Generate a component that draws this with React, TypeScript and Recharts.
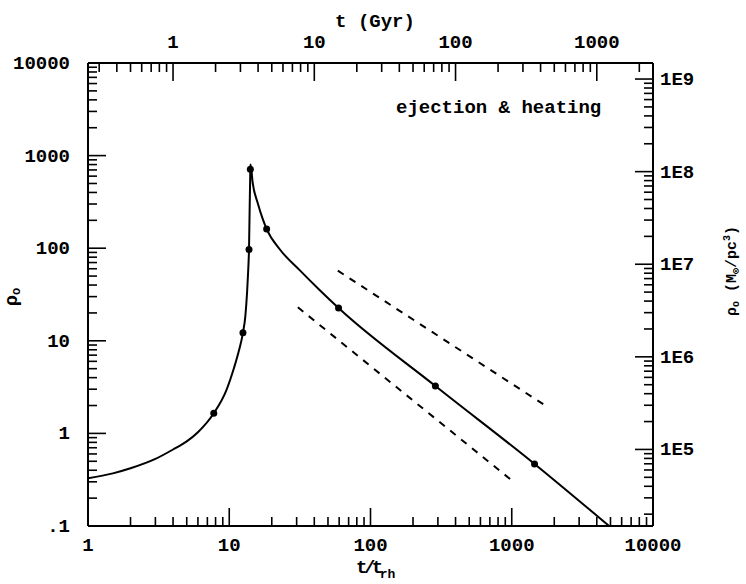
import { ComposedChart, Line, Scatter, XAxis, YAxis } from 'recharts';

// t / t_rh along the curve and central density rho_0
const curveX = [1, 1.5, 2, 3, 4, 5, 6, 7.77, 9.55, 10.8, 11.7, 12.5, 13.0, 13.36, 13.6, 13.8, 14.1, 14.15, 14.66, 15.9, 17.25, 18.4, 22.7, 31.5, 43.6, 59.4, 288, 1450, 4890];
const curveY = [0.327, 0.37, 0.42, 0.53, 0.67, 0.82, 1.03, 1.65, 2.94, 5.08, 7.8, 12.2, 18.5, 32.6, 55, 97, 711, 800, 506, 307, 207, 161, 98, 58, 35.4, 22.6, 3.25, 0.468, 0.1];

// computed models (dots)
const markerX = [7.77, 12.5, 13.8, 14.1, 18.4, 59.4, 288, 1450];
const markerY = [1.65, 12.2, 97, 711, 161, 22.6, 3.25, 0.468];

// power-law guide lines
const upperDashX = [58.7, 1745];
const upperDashY = [57.2, 1.98];
const lowerDashX = [30.6, 992];
const lowerDashY = [23, 0.314];

const bottomLabels = ['1', '10', '100', '1000', '10000'];
const topLabels = ['1', '10', '100', '1000'];
const leftLabels = ['.1', '1', '10', '100', '1000', '10000'];
const rightLabels = ['1E5', '1E6', '1E7', '1E8', '1E9'];

const T_RH = 0.25; // Gyr
const RHO_UNIT = 1.49e5; // Msun/pc^3

const curve = curveX.map((x, i) => ({ x, y: curveY[i] }));
const curvePhys = curveX.map((x, i) => ({ t: x * T_RH, rho: curveY[i] * RHO_UNIT }));
const markers = markerX.map((x, i) => ({ x, y: markerY[i] }));
const upperDash = upperDashX.map((x, i) => ({ x, y: upperDashY[i] }));
const lowerDash = lowerDashX.map((x, i) => ({ x, y: lowerDashY[i] }));

const logTicks = (lo: number, hi: number) => {
  const out: number[] = [];
  for (let e = Math.floor(Math.log10(lo)) - 1; e <= Math.ceil(Math.log10(hi)); e++) {
    for (let m = 1; m < 10; m++) {
      const v = m * Math.pow(10, e);
      if (v >= lo * 0.999 && v <= hi * 1.001) out.push(v);
    }
  }
  return out;
};

const font = '"Liberation Mono", monospace';
const MAJOR = 18;
const MINOR = 9;

const majorIndex = (v: number, first: number) => {
  const l = Math.log10(v);
  if (Math.abs(l - Math.round(l)) > 1e-6) return -1;
  return Math.round(l) - first;
};

const makeTick = (side: 'b' | 't' | 'l' | 'r', labels: string[], first: number) => (props: any) => {
  const { x, y, payload } = props;
  const idx = majorIndex(payload.value, first);
  const major = idx >= 0 && idx < labels.length;
  const len = major ? MAJOR : MINOR;
  let line;
  let text = null;
  const ts = { fontFamily: font, fontSize: 19, fontWeight: 700, fill: '#000' };
  if (side === 'b') {
    line = <line x1={x} y1={y} x2={x} y2={y - len} />;
    if (major) text = <text x={x} y={y + 20} textAnchor="middle" dominantBaseline="central" {...ts}>{labels[idx]}</text>;
  } else if (side === 't') {
    line = <line x1={x} y1={y} x2={x} y2={y + len} />;
    if (major) text = <text x={x} y={y - 20} textAnchor="middle" dominantBaseline="central" {...ts}>{labels[idx]}</text>;
  } else if (side === 'l') {
    line = <line x1={x} y1={y} x2={x + len} y2={y} />;
    if (major) text = <text x={x - 18} y={y + 1} textAnchor="end" dominantBaseline="central" {...ts}>{labels[idx]}</text>;
  } else {
    line = <line x1={x} y1={y} x2={x - len} y2={y} />;
    if (major) text = <text x={x + 7} y={y + 1} textAnchor="start" dominantBaseline="central" {...ts}>{labels[idx]}</text>;
  }
  return (
    <g>
      <g stroke="#000" strokeWidth={1.6}>{line}</g>
      {text}
    </g>
  );
};

const axisLine = { stroke: '#000', strokeWidth: 2 };

export default function App() {
  return (
    <div style={{ position: 'absolute', left: 0, top: 0, width: 746, height: 584, background: '#fff' }}>
      <ComposedChart width={746} height={584} margin={{ top: 23, right: 33, bottom: 18, left: 28 }}>
        <XAxis
          xAxisId="b"
          dataKey="x"
          type="number"
          scale="log"
          domain={[1, 10000]}
          ticks={logTicks(1, 10000)}
          interval={0}
          height={40}
          tickSize={0}
          tickMargin={0}
          axisLine={axisLine}
          tick={makeTick('b', bottomLabels, 0)}
          allowDataOverflow
        />
        <XAxis
          xAxisId="t"
          dataKey="t"
          orientation="top"
          type="number"
          scale="log"
          domain={[T_RH * 1, T_RH * 10000]}
          ticks={logTicks(T_RH, T_RH * 10000)}
          interval={0}
          height={40}
          tickSize={0}
          tickMargin={0}
          axisLine={axisLine}
          tick={makeTick('t', topLabels, 0)}
          allowDataOverflow
        />
        <YAxis
          yAxisId="l"
          type="number"
          scale="log"
          domain={[0.1, 10000]}
          ticks={logTicks(0.1, 10000)}
          interval={0}
          width={60}
          tickSize={0}
          tickMargin={0}
          axisLine={axisLine}
          tick={makeTick('l', leftLabels, -1)}
          allowDataOverflow
        />
        <YAxis
          yAxisId="r"
          orientation="right"
          type="number"
          scale="log"
          domain={[RHO_UNIT * 0.1, RHO_UNIT * 10000]}
          ticks={logTicks(RHO_UNIT * 0.1, RHO_UNIT * 10000)}
          interval={0}
          width={60}
          tickSize={0}
          tickMargin={0}
          axisLine={axisLine}
          tick={makeTick('r', rightLabels, 5)}
          allowDataOverflow
        />
        {/* same curve in physical units, only to drive the top/right axes */}
        <Line
          xAxisId="t"
          yAxisId="r"
          data={curvePhys}
          dataKey="rho"
          type="monotone"
          stroke="none"
          dot={false}
          isAnimationActive={false}
        />
        <Line
          xAxisId="b"
          yAxisId="l"
          data={upperDash}
          dataKey="y"
          type="linear"
          stroke="#000"
          strokeWidth={2}
          strokeDasharray="7 7"
          dot={false}
          isAnimationActive={false}
        />
        <Line
          xAxisId="b"
          yAxisId="l"
          data={lowerDash}
          dataKey="y"
          type="linear"
          stroke="#000"
          strokeWidth={2}
          strokeDasharray="7 7"
          dot={false}
          isAnimationActive={false}
        />
        <Line
          xAxisId="b"
          yAxisId="l"
          data={curve}
          dataKey="y"
          type="monotone"
          stroke="#000"
          strokeWidth={2}
          dot={false}
          isAnimationActive={false}
        />
        <Scatter
          xAxisId="b"
          yAxisId="l"
          data={markers}
          dataKey="y"
          fill="#000"
          shape={(p: any) => <circle cx={p.cx} cy={p.cy} r={3.5} fill="#000" />}
          isAnimationActive={false}
        />
      </ComposedChart>
      <svg width={746} height={584} style={{ position: 'absolute', left: 0, top: 0, pointerEvents: 'none' }}>
        <g fontFamily={font} fontWeight={700} fill="#000">
          <text x={375} y={27} fontSize={19} textAnchor="middle">t (Gyr)</text>
          <text x={396} y={113} fontSize={19}>ejection &amp; heating</text>
          <text x={356} y={573} fontSize={19} letterSpacing={-3.5}>
            t/t<tspan fontSize={13} dy={5} letterSpacing={0}>rh</tspan>
          </text>
          <text transform="translate(17,297) rotate(-90)" fontSize={19} textAnchor="middle">
            ρ<tspan fontSize={12} dy={3}>o</tspan>
          </text>
          <text transform="translate(736,271) rotate(-90)" fontSize={15} textAnchor="middle">
            ρ<tspan fontSize={10} dy={3}>o</tspan>
            <tspan dy={-3}> (M</tspan>
            <tspan fontSize={10} dy={3}>⊙</tspan>
            <tspan dy={-3}>/pc</tspan>
            <tspan fontSize={10} dy={-6}>3</tspan>
            <tspan dy={6}>)</tspan>
          </text>
        </g>
      </svg>
    </div>
  );
}
